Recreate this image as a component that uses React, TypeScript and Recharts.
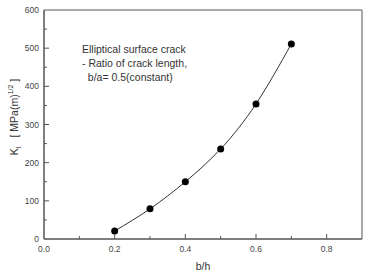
import React from "react";
import { ComposedChart, Line, XAxis, YAxis, ReferenceArea, Label } from "recharts";

const bh = [0.2, 0.3, 0.4, 0.5, 0.6, 0.7];
const ki = [21, 79, 150, 236, 354, 511];
const xTicks = [0, 0.1, 0.2, 0.3, 0.4, 0.5, 0.6, 0.7, 0.8, 0.9];
const xLabels = ["0.0", "", "0.2", "", "0.4", "", "0.6", "", "0.8", ""];
const yTicks = [0, 50, 100, 150, 200, 250, 300, 350, 400, 450, 500, 550, 600];
const yLabels = ["0", "", "100", "", "200", "", "300", "", "400", "", "500", "", "600"];
const note = ["Elliptical surface crack", "- Ratio of crack length,", "  b/a= 0.5(constant)"];

const data = bh.map((b, i) => ({ b, k: ki[i] }));

const AX = "#555";
const TXT = "#444";
const FONT = "Liberation Sans, Arial, sans-serif";

const XTick = (props: any) => {
  const { x, y, index } = props;
  const lab = xLabels[index];
  const major = lab !== "";
  return (
    <g>
      {index > 0 && index < xTicks.length - 1 && (
        <line x1={x} x2={x} y1={y} y2={y - (major ? 5 : 3)} stroke={AX} />
      )}
      {major && (
        <text x={x} y={y + 13} textAnchor="middle" fontSize={8.5} fill={TXT} fontFamily={FONT}>
          {lab}
        </text>
      )}
    </g>
  );
};

const YTick = (props: any) => {
  const { x, y, index } = props;
  const lab = yLabels[index];
  const major = lab !== "";
  return (
    <g>
      {index > 0 && index < yTicks.length - 1 && (
        <line x1={x} x2={x + (major ? 5 : 3)} y1={y} y2={y} stroke={AX} />
      )}
      {major && (
        <text x={x - 5} y={y + 3} textAnchor="end" fontSize={8.5} fill={TXT} fontFamily={FONT}>
          {lab}
        </text>
      )}
    </g>
  );
};

const YLab = () => (
  <text
    x={18}
    y={117}
    transform="rotate(-90, 18, 117)"
    textAnchor="middle"
    fontSize={10.5}
    fill="#333"
    fontFamily={FONT}
    xmlSpace="preserve"
  >
    K
    <tspan fontSize={7} dy={3}>I</tspan>
    <tspan dy={-3}>{"   [ MPa(m)"}</tspan>
    <tspan fontSize={7} dy={-5}>1/2</tspan>
    <tspan dy={5}>{" ]"}</tspan>
  </text>
);

const XLab = () => (
  <text x={203} y={270} textAnchor="middle" fontSize={10.5} fill="#333" fontFamily={FONT}>
    b/h
  </text>
);

export default function App() {
  return (
    <div style={{ position: "absolute", left: 0, top: 0, background: "#fff" }}>
      <ComposedChart width={367} height={272} data={data} margin={{ top: 10, right: 5, left: 14, bottom: 13 }}>
        <XAxis
          dataKey="b"
          type="number"
          domain={[0, 0.9]}
          ticks={xTicks}
          interval={0}
          height={20}
          stroke={AX}
          tickLine={false}
          tickSize={0}
          tickMargin={0}
          tick={<XTick />}
        >
          <Label content={<XLab />} />
        </XAxis>
        <YAxis
          type="number"
          domain={[0, 600]}
          ticks={yTicks}
          interval={0}
          width={30}
          stroke={AX}
          tickLine={false}
          tickSize={0}
          tickMargin={0}
          tick={<YTick />}
        >
          <Label content={<YLab />} />
        </YAxis>
        <ReferenceArea x1={0} x2={0.9} y1={0} y2={600} fill="none" stroke={AX} strokeWidth={1} ifOverflow="visible" />
        <Line
          dataKey="k"
          type="natural"
          stroke="#333"
          strokeWidth={1}
          dot={{ r: 3.5, fill: "#000", stroke: "#000", strokeWidth: 0 }}
          isAnimationActive={false}
        />
        <text x={82} y={53} fontSize={10.5} fill="#333" fontFamily={FONT}>
          {note[0]}
        </text>
        <text x={82} y={67} fontSize={10.5} fill="#333" fontFamily={FONT} xmlSpace="preserve">
          {note[1]}
        </text>
        <text x={82} y={81} fontSize={10.5} fill="#333" fontFamily={FONT} xmlSpace="preserve">
          {note[2]}
        </text>
      </ComposedChart>
    </div>
  );
}
